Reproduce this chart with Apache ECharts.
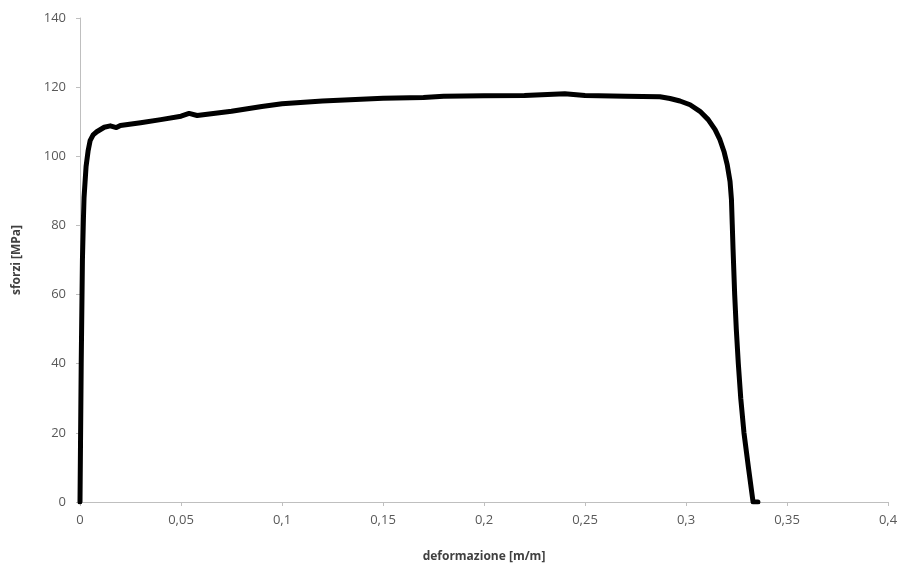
<!DOCTYPE html>
<html>
<head>
<meta charset="utf-8">
<script src="https://cdn.jsdelivr.net/npm/echarts@6/dist/echarts.min.js"></script>
<style>html,body{margin:0;padding:0;background:#fff;}#c{width:902px;height:568px;}</style>
</head>
<body>
<div id="c"></div>
<script>
const strain = [0, 0.0006, 0.0012, 0.0017, 0.002, 0.003, 0.004, 0.005, 0.0065, 0.0083, 0.012, 0.015, 0.018, 0.02, 0.03, 0.04, 0.05, 0.054, 0.058, 0.065, 0.075, 0.09, 0.1, 0.12, 0.15, 0.17, 0.18, 0.2, 0.22, 0.24, 0.25, 0.27, 0.2871, 0.2921, 0.297, 0.302, 0.3069, 0.311, 0.3144, 0.3168, 0.3188, 0.3204, 0.3218, 0.3225, 0.3229, 0.3233, 0.3241, 0.3249, 0.3259, 0.3271, 0.3287, 0.3309, 0.3332, 0.3356];
const stress = [0, 40, 70, 82, 88, 97, 101.5, 104.5, 106.2, 107.1, 108.4, 108.8, 108.3, 108.9, 109.7, 110.6, 111.6, 112.4, 111.8, 112.3, 113.0, 114.4, 115.2, 116.0, 116.8, 117.0, 117.4, 117.5, 117.6, 118.1, 117.6, 117.4, 117.2, 116.7, 116.0, 114.9, 113.0, 110.6, 107.7, 104.8, 101.4, 97.6, 92.7, 87.5, 80.3, 73, 60, 50, 40, 30, 20, 10, 0, 0];
const xTitle = 'deformazione [m/m]';
const yTitle = 'sforzi [MPa]';

const chart = echarts.init(document.getElementById('c'));
const comma = v => String(+v.toFixed(3)).replace('.', ',');
const axisCommon = {
  axisLine: {show: true, lineStyle: {color: '#BFBFBF', width: 1}},
  axisTick: {show: true, lineStyle: {color: '#BFBFBF'}, length: 4},
  splitLine: {show: false},
  axisLabel: {color: '#595959', fontSize: 13, fontFamily: 'Open Sans'},
  nameTextStyle: {color: '#404040', fontSize: 12, fontWeight: 'bold', fontFamily: 'Open Sans'}
};
chart.setOption({
  animation: false,
  grid: {left: 80, right: 14, top: 18, bottom: 65, containLabel: false},
  xAxis: Object.assign({}, axisCommon, {
    type: 'value', min: 0, max: 0.4, interval: 0.05,
    name: xTitle, nameLocation: 'middle', nameGap: 49,
    axisLabel: Object.assign({}, axisCommon.axisLabel, {formatter: comma, margin: 12})
  }),
  yAxis: Object.assign({}, axisCommon, {
    type: 'value', min: 0, max: 140, interval: 20,
    name: yTitle, nameLocation: 'middle', nameGap: 57,
    axisLabel: Object.assign({}, axisCommon.axisLabel, {margin: 14})
  }),
  series: [{
    type: 'line',
    data: strain.map((x, i) => [x, stress[i]]),
    showSymbol: false,
    smooth: false,
    lineStyle: {color: '#000', width: 5, cap: 'round', join: 'round'}
  }]
});
</script>
</body>
</html>
